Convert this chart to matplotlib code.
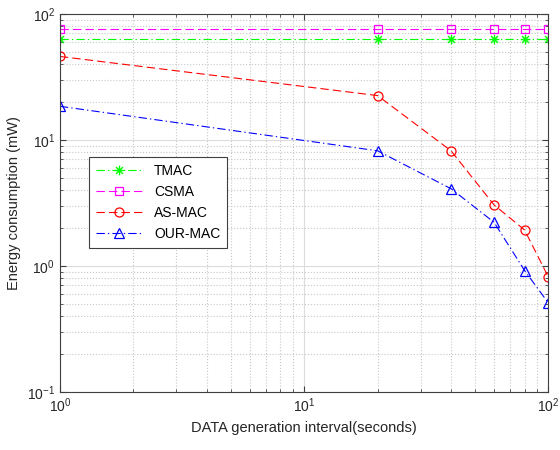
import matplotlib
matplotlib.use("Agg")
import matplotlib.pyplot as plt
from matplotlib.ticker import LogLocator, NullFormatter
from matplotlib.path import Path
import numpy as np

plt.rcParams['font.family'] = ['Liberation Sans', 'DejaVu Sans']

x = [1, 20, 40, 60, 80, 100]
tmac = [63, 63, 63, 63, 63, 63]
csma = [76, 76, 76, 76, 76, 76]
asmac = [46, 22.5, 8.2, 3.05, 1.93, 0.82]
ourmac = [18.5, 8.2, 4.1, 2.22, 0.92, 0.51]
labels = ['TMAC', 'CSMA', 'AS-MAC', 'OUR-MAC']

# MATLAB-style asterisk marker
verts, codes = [], []
for a in np.deg2rad([0, 45, 90, 135]):
    c, s = np.cos(a), np.sin(a)
    verts += [(-c, -s), (c, s)]
    codes += [Path.MOVETO, Path.LINETO]
asterisk = Path(verts, codes)

lw = 0.8
dash = (7.5, 3.75)
dashdot = (7.5, 2.8, 1.2, 2.8)

fig = plt.figure(figsize=(5.6, 4.5), dpi=100)
ax = fig.add_axes([0.107, 0.129, 0.872, 0.84])

ax.plot(x, tmac, color=(0, 1, 0), ls='-.', dashes=dashdot, marker=asterisk, ms=7, mfc='none', mew=1, lw=lw, label=labels[0])
ax.plot(x, csma, color=(1, 0, 1), ls='--', dashes=dash, marker='s', ms=5.5, mfc='none', mew=0.9, lw=lw, label=labels[1])
ax.plot(x, asmac, color=(1, 0, 0), ls='--', dashes=dash, marker='o', ms=6.5, mfc='none', mew=0.9, lw=lw, label=labels[2])
ax.plot(x, ourmac, color=(0, 0, 1), ls='-.', dashes=dashdot, marker='^', ms=6.5, mfc='none', mew=0.9, lw=lw, label=labels[3])

ax.set_xscale('log')
ax.set_yscale('log')
ax.set_xlim(1, 100)
ax.set_ylim(0.1, 100)

ax.xaxis.set_minor_locator(LogLocator(base=10, subs=range(2, 10)))
ax.yaxis.set_minor_locator(LogLocator(base=10, subs=range(2, 10)))
ax.xaxis.set_minor_formatter(NullFormatter())
ax.yaxis.set_minor_formatter(NullFormatter())

ax.grid(True, which='major', color='#dcdcdc', ls='-', lw=0.8)
ax.grid(True, which='minor', color='#c8c8c8', ls=':', lw=0.8)
ax.set_axisbelow(True)

for s in ax.spines.values():
    s.set_color('#404040')
    s.set_linewidth(0.8)
ax.tick_params(which='both', direction='in', top=True, right=True, colors='#404040',
               labelcolor='#262626', labelsize=10)
ax.tick_params(which='major', length=4)
ax.tick_params(which='minor', length=2)

ax.set_xlabel('DATA generation interval(seconds)', fontsize=10.5, color='#262626')
ax.set_ylabel('Energy consumption (mW)', fontsize=10.5, color='#262626')

leg = ax.legend(loc='upper left', bbox_to_anchor=(0.045, 0.64), fontsize=10,
                frameon=True, fancybox=False, edgecolor='#404040', framealpha=1,
                handlelength=3.4, borderpad=0.5, labelspacing=0.5)
leg.get_frame().set_linewidth(0.8)

fig.savefig('out.png', dpi=100)
